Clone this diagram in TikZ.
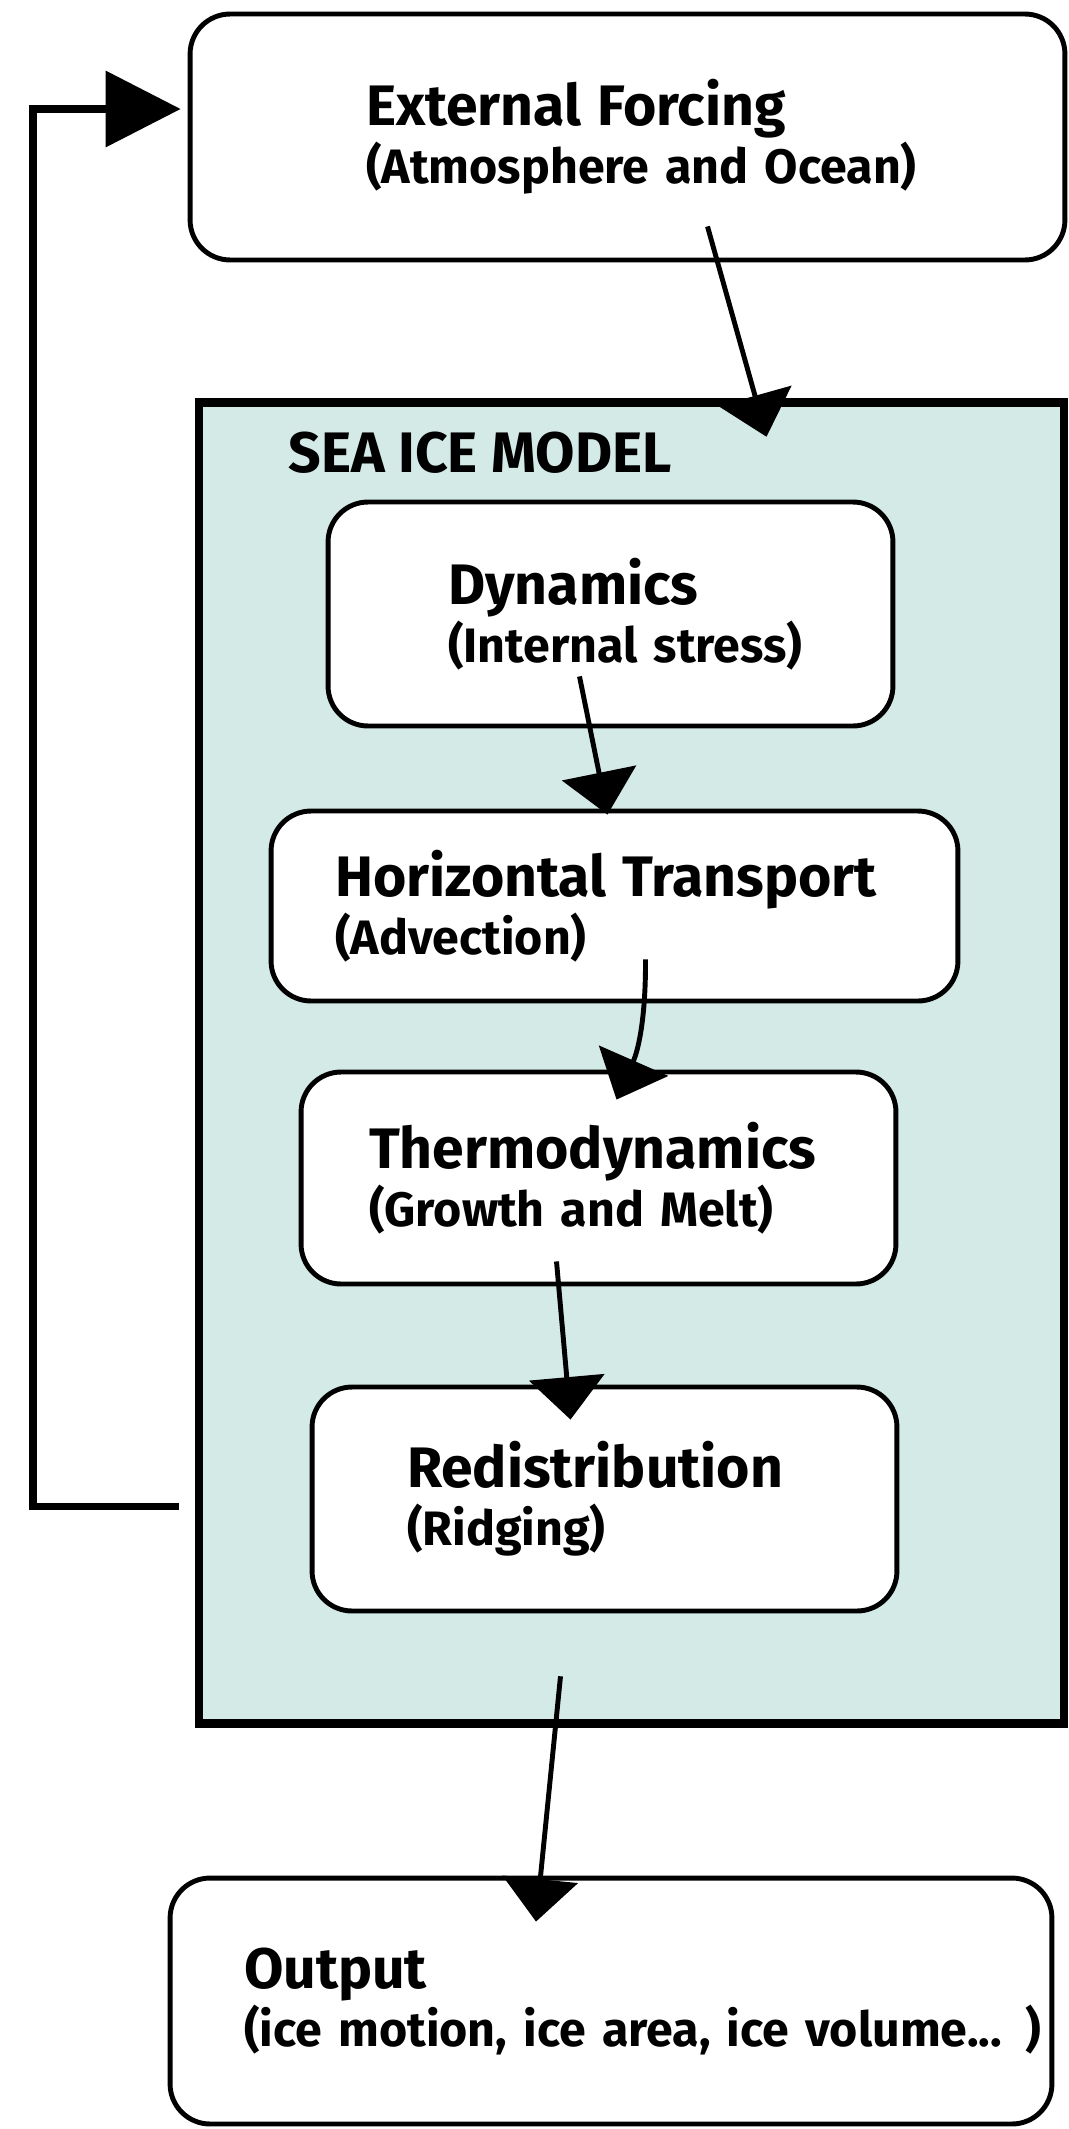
\documentclass[tikz,border=0pt]{standalone}
\usepackage{fontspec}
\setmainfont{Fira Sans}
\usetikzlibrary{calc,arrows.meta}
\definecolor{iceteal}{HTML}{D4EAE7}
\newcommand{\headfont}{\fontsize{32.5}{33}\selectfont\bfseries}
\newcommand{\boxlabel}[2]{\mbox{\headfont #1}\\\mbox{#2}}
\tikzset{%
  procbox/.style={draw=black,line width=2.8pt,rounded corners=0.8cm,fill=white,
    align=left,inner ysep=0pt,font=\fontsize{27.5}{33}\selectfont\bfseries},
  modelbox/.style={draw=black,line width=5pt,fill=iceteal,inner sep=0pt},
  flow/.style={line width=2.8pt,-{Triangle[width=1.5cm,length=0.85cm]}},
  feedback/.style={line width=4pt,-{Triangle[width=1.5cm,length=1.5cm]}}
}

\begin{document}
\begin{tikzpicture}[x=0.02cm,y=-0.02cm]
      \useasboundingbox (0,0) rectangle (1068,2129);
      \path
        (631.5,1063) node (model)[modelbox,minimum width=17.3cm,minimum height=26.44cm]{}
        (288,472) node (mtitle)[anchor=base west,inner sep=0pt,font=\headfont]{SEA ICE MODEL}
        (627.5,137) node (ext)[procbox,minimum width=17.5cm,minimum height=4.92cm,
          inner xsep=3.52cm,text width=10.46cm]{\boxlabel{External Forcing}{(Atmosphere and Ocean)}}
        (610.5,614) node (dyn)[procbox,minimum width=11.3cm,minimum height=4.48cm,
          inner xsep=2.4cm,text width=6.5cm]{\boxlabel{Dynamics}{(Internal stress)}}
        (614.5,906) node (horiz)[procbox,minimum width=13.74cm,minimum height=3.8cm,
          inner xsep=1.28cm,text width=11.18cm]{\boxlabel{Horizontal Transport}{(Advection)}}
        (598.5,1178) node (thermo)[procbox,minimum width=11.9cm,minimum height=4.24cm,
          inner xsep=1.36cm,text width=9.18cm]{\boxlabel{Thermodynamics}{(Growth and Melt)}}
        (604.5,1499) node (redist)[procbox,minimum width=11.7cm,minimum height=4.48cm,
          inner xsep=1.9cm,text width=7.9cm]{\boxlabel{Redistribution}{(Ridging)}}
        (611,2001) node (output)[procbox,minimum width=17.64cm,minimum height=4.92cm,
          inner xsep=1.48cm,text width=14.68cm]{\boxlabel{Output}{(ice motion, ice area, ice volume... )}};
      \coordinate (back) at (33,1506);
      \draw[flow] ($(ext.south)+(80,-36)$) -- ($(model.north)+(135,39)$);
      \draw[flow] ($(dyn.south)+(-31,-52)$) -- ($(horiz.north)+(-7,6)$);
      \draw[flow] ($(horiz.south)+(31,-44)$) to[bend left=12] ($(thermo.north)+(18,30)$);
      \draw[flow] ($(thermo.south)+(-42,-25)$) -- ($(redist.north)+(-34,35)$);
      \draw[flow] ($(model.south)+(-71,-52)$) -- ($(output.north)+(-75,46)$);
      \draw[feedback,shorten <=0.32cm] (model.west |- back) -- (back)
        |- ([xshift=-0.14cm,yshift=0.56cm]ext.west);
    \end{tikzpicture}
\end{document}
